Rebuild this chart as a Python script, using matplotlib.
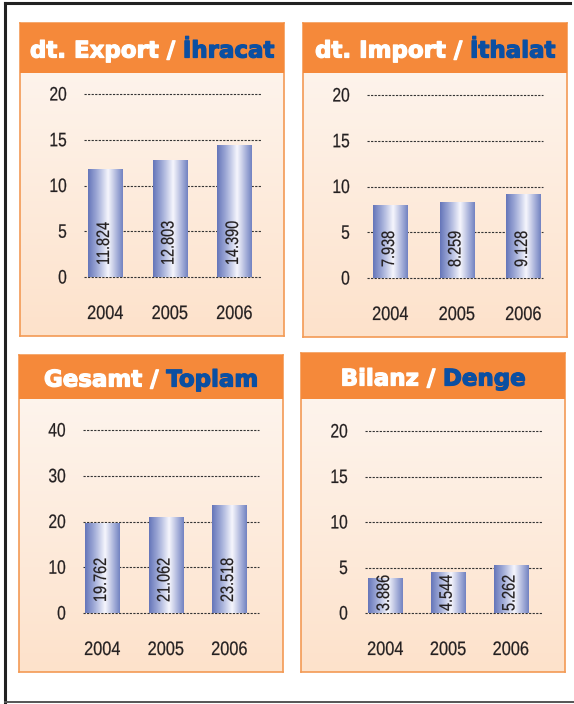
import numpy as np
import matplotlib
matplotlib.use('Agg')
from matplotlib import pyplot as plt
from matplotlib import patheffects
from matplotlib.colors import LinearSegmentedColormap
from matplotlib.transforms import Affine2D

years = ['2004', '2005', '2006']
export_vals = [11.824, 12.803, 14.390]
import_vals = [7.938, 8.259, 9.128]
total_vals = [19.762, 21.062, 23.518]
balance_vals = [3.886, 4.544, 5.262]

titles_de = ['dt. Export / ', 'dt. Import / ', 'Gesamt / ', 'Bilanz / ']
titles_tr = ['İhracat', 'İthalat', 'Toplam', 'Denge']
y_max = [20, 20, 40, 20]
y_step = [5, 5, 10, 5]

W, H = 574, 704
DPI = 100
PT = DPI / 72  # pixels per point

ORANGE = '#f5893a'
BLUE = '#0b4fa2'
INK = '#231f20'
bar_cmap = LinearSegmentedColormap.from_list(
    'bar', [(0, '#6676ba'), (0.3, '#aab4dc'), (0.58, '#f6f6fd'), (1, '#7484c2')])
bg_cmap = LinearSegmentedColormap.from_list('bg', ['#fdf7f2', '#fde2cb'])


class Squeeze(patheffects.AbstractPathEffect):
    ''' squeeze glyphs along the text direction (fake condensed font) '''
    def __init__(self, sx, ha='left', lw=0.15):
        super().__init__()
        self.sx = sx
        self.ha = ha
        self.lw = lw

    def draw_path(self, renderer, gc, tpath, affine, rgbFace=None):
        w = tpath.get_extents().x1
        shift = {'left': 0, 'center': (1 - self.sx) * w / 2, 'right': (1 - self.sx) * w}[self.ha]
        aff = Affine2D().scale(self.sx, 1).translate(shift, 0) + affine
        gc0 = renderer.new_gc()
        gc0.copy_properties(gc)
        gc0.set_linewidth(self.lw)
        gc0.set_foreground(rgbFace)
        renderer.draw_path(gc0, tpath, aff, rgbFace)
        gc0.restore()


def rect(x0, y0, x1, y1):
    # pixel box (top-left origin) -> figure fraction
    return [x0 / W, 1 - y1 / H, (x1 - x0) / W, (y1 - y0) / H]


fig = plt.figure(figsize=(W / DPI, H / DPI), dpi=DPI)
fig.patch.set_facecolor('white')

# outer frame lines
frame = fig.add_axes([0, 0, 1, 1])
frame.set_xlim(0, W)
frame.set_ylim(H, 0)
frame.axis('off')
frame.plot([5, 570], [3, 3], color='#222222', lw=2.2)
frame.plot([5, 5], [3, 703], color='#222222', lw=2.2)
frame.plot([5, 574], [702, 702], color='#555555', lw=1.4)

# panel boxes: outer box, title band bottom, grid box (left, top=max, right, bottom=0), bar centres
panels = [
    dict(box=(20, 23, 284, 336), band=73, grid=(84, 94, 261, 277), centers=(105.5, 169.5, 234.5), lab=12),
    dict(box=(303, 23, 567, 337), band=73, grid=(367, 95, 543, 278), centers=(390.5, 458.5, 523.5), lab=11),
    dict(box=(19, 355, 283, 672), band=399, grid=(83, 430, 259, 613), centers=(102.5, 165.5, 229.5), lab=11),
    dict(box=(301, 353, 565, 672), band=399, grid=(365, 431, 542, 613), centers=(385.5, 449.5, 511), lab=2),
]
all_vals = [export_vals, import_vals, total_vals, balance_vals]
BAR_W = 35

title_parts = []
for k, p in enumerate(panels):
    x0, y0, x1, y1 = p['box']
    # background gradient
    bg = fig.add_axes(rect(x0, y0, x1, y1))
    bg.imshow(np.linspace(0, 1, 100).reshape(-1, 1), cmap=bg_cmap, aspect='auto',
              extent=(0, 1, 0, 1))
    bg.set_xlim(0, 1)
    bg.set_ylim(0, 1)
    bg.set_xticks([])
    bg.set_yticks([])
    for s in bg.spines.values():
        s.set_color('#f39a55')
        s.set_linewidth(1.2)
    band = fig.add_axes(rect(x0, y0, x1, p['band']))
    band.set_facecolor(ORANGE)
    band.set_xticks([])
    band.set_yticks([])
    for s in band.spines.values():
        s.set_visible(False)
    ty = (y0 + p['band']) / 2 + 3
    t1 = fig.text(0, 1 - ty / H, titles_de[k], color='white', fontsize=16.5,
                  fontweight='bold', family='DejaVu Sans', va='center', ha='left',
                  path_effects=[patheffects.withStroke(linewidth=0.9, foreground='white')])
    t2 = fig.text(0, 1 - ty / H, titles_tr[k], color=BLUE, fontsize=16.5,
                  fontweight='bold', family='DejaVu Sans', va='center', ha='left',
                  path_effects=[patheffects.withStroke(linewidth=0.9, foreground=BLUE)])
    title_parts.append(((x0 + x1) / 2, t1, t2))

    # data axes
    gx0, gtop, gx1, gbot = p['grid']
    ax = fig.add_axes(rect(gx0, gtop, gx1, gbot))
    c = p['centers']
    step = (c[2] - c[0]) / 2
    xlim = ((gx0 - c[0]) / step, (gx1 - c[0]) / step)
    ax.patch.set_alpha(0)
    for s in ax.spines.values():
        s.set_visible(False)
    ticks = np.arange(0, y_max[k] + 1, y_step[k])
    for t in ticks:
        ax.axhline(t, color='#333333', lw=0.8, ls=(0, (2, 1.2)), zorder=1, clip_on=False)
    ax.set_yticks(ticks)
    ax.set_yticklabels([str(int(t)) for t in ticks], family='Liberation Sans',
                       fontsize=14, color=INK)
    ax.tick_params(axis='y', length=0, pad=17 / PT)
    for lab in ax.get_yticklabels():
        lab.set_path_effects([Squeeze(0.8, 'right')])
    xs = np.arange(len(years))
    ax.set_xticks(xs)
    ax.set_xticklabels(years, family='Liberation Sans', fontsize=14, color=INK)
    ax.tick_params(axis='x', length=0, pad=29 / PT)
    for lab in ax.get_xticklabels():
        lab.set_path_effects([Squeeze(0.84, 'center')])

    bw = BAR_W / step
    vals = all_vals[k]
    grad = np.linspace(0, 1, 64).reshape(1, -1)
    for i, v in enumerate(vals):
        bars = ax.bar(xs[i], v, width=bw, color='none', zorder=2)
        im = ax.imshow(grad, cmap=bar_cmap, aspect='auto',
                       extent=(xs[i] - bw / 2, xs[i] + bw / 2, 0, v), zorder=2)
        im.set_clip_path(bars[0])
        ax.annotate(f'{v:.3f}', xy=(xs[i], 0), xytext=(-1 / PT, p['lab'] / PT),
                    textcoords='offset points', rotation=90, ha='center', va='bottom',
                    family='Liberation Sans', fontsize=13, color=INK, zorder=4,
                    annotation_clip=False, path_effects=[Squeeze(0.8, 'left')])
    ax.set_xlim(*xlim)
    ax.set_ylim(0, y_max[k])

# centre the two-coloured titles
fig.canvas.draw()
r = fig.canvas.get_renderer()
for cx, t1, t2 in title_parts:
    w1 = t1.get_window_extent(r).width
    w2 = t2.get_window_extent(r).width
    left = cx - (w1 + w2) / 2
    t1.set_x(left / W)
    t2.set_x((left + w1) / W)

fig.savefig('out.png', dpi=DPI)
